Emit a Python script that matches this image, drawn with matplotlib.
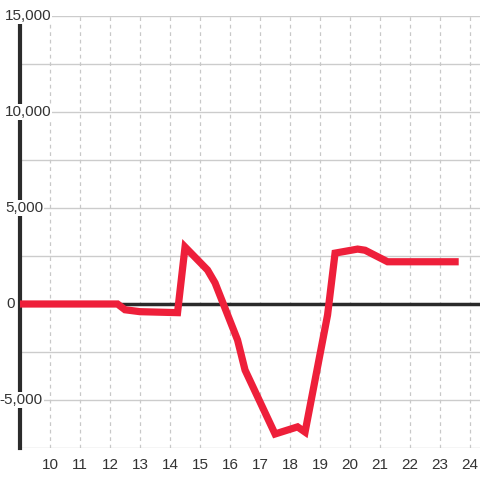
import matplotlib.pyplot as plt
from matplotlib.transforms import blended_transform_factory
import numpy as np

plt.rcParams['font.family'] = ['Liberation Sans', 'DejaVu Sans']

# data
horas = [9, 12.25, 12.5, 13, 14.25, 14.5, 15.25, 15.5, 16.25, 16.5,
         17.5, 18.25, 18.5, 19.25, 19.5, 20.25, 20.5, 21.25, 23.5]
valores = [0, 0, -300, -400, -450, 2970, 1770, 1100, -1875, -3440,
           -6770, -6400, -6670, -570, 2650, 2860, 2800, 2200, 2200]
y_labels = [15000, 10000, 5000, 0, -5000]
x_ticks = list(range(10, 25))

fig = plt.figure(figsize=(4.8, 4.8), dpi=100)
ax = fig.add_axes([20/480, 32/480, 460/480, 432/480])
ax.set_xlim(9, 24.33)
ax.set_ylim(-7500, 15000)

# grid
for yy in np.arange(-7500, 15001, 2500):
    ax.axhline(yy, color='#cccccc', lw=1, zorder=1)
for xx in x_ticks:
    ax.axvline(xx, color='#c8c8c8', lw=0.9, ls=(0, (3, 3)), zorder=1)
ax.axhline(0, color='#2b2b2b', lw=2.5, zorder=2)

ax.plot(horas, valores, color='#ee1f3a', lw=5.2, solid_joinstyle='miter', zorder=4)

for s in ['top', 'right', 'bottom']:
    ax.spines[s].set_visible(False)
ax.spines['left'].set_color('#2b2b2b')
ax.spines['left'].set_linewidth(3)
ax.spines['left'].set_zorder(2)

ax.set_yticks([])
ax.set_xticks(x_ticks)
ax.set_xticklabels([str(t) for t in x_ticks])
ax.tick_params(axis='x', length=0, labelsize=11, colors='#333333', pad=7)

# y labels sit over the axis line, right edge in pixels from the figure's left
fin_px = {15000: 51, 10000: 51, 5000: 43, 0: 15, -5000: 43}
tr = blended_transform_factory(ax.transAxes, ax.transData)
for v in y_labels:
    ax.text((fin_px[v] - 20) / 460, v, f'{v:,}', transform=tr, ha='right', va='center',
            fontsize=11, color='#333333', zorder=3,
            bbox=dict(facecolor='white', edgecolor='none', pad=1))

fig.savefig('out.png', facecolor='white')
